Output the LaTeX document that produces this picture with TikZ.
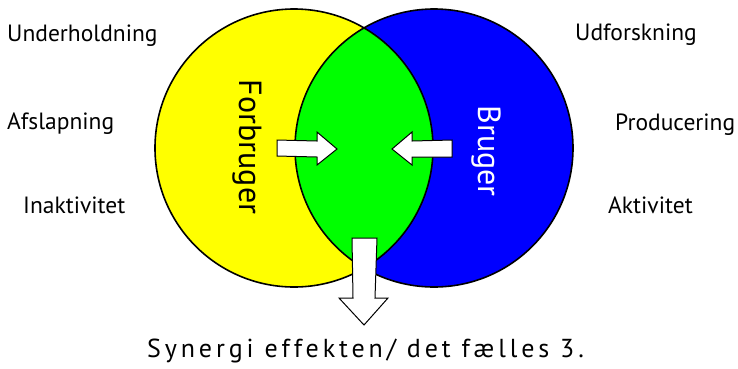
\documentclass[tikz,border=0pt]{standalone}
\usepackage{fontspec}
\setmainfont{PT Sans}
\definecolor{vyellow}{RGB}{255,255,0}
\definecolor{vblue}{RGB}{0,0,255}
\definecolor{vgreen}{RGB}{0,255,0}
\begin{document}
\begin{tikzpicture}[x=1pt,y=-1pt,
  side/.style={font=\fontsize{23.5}{26}\selectfont, inner sep=0pt, anchor=base west},
  inlabel/.style={rotate=-90, font=\fontsize{32}{36}\selectfont, inner sep=0pt},
  circ/.style={line width=1.6pt},
  fatarrow/.style={fill=white, draw=black, line width=1pt, line join=miter}]
\useasboundingbox (0,0) rectangle (738,368);
% circles
\fill[vyellow] (294,148) circle (139);
\fill[vblue] (434,148) circle (139);
\begin{scope}
  \clip (294,148) circle (139);
  \fill[vgreen] (434,148) circle (139);
\end{scope}
\draw[circ] (294,148) circle (139);
\draw[circ] (434,148) circle (139);
% circle labels
\node[inlabel] (forb) at (247,147) {Forbruger};
\node[inlabel, text=white] (brug) at (486,151) {Bruger};
% arrows
\draw[fatarrow] (277,140) -- (317,141) -- (317,132) -- (337,149) -- (317,165) -- (317,157) -- (277,156) -- cycle;
\draw[fatarrow] (452,140) -- (412,141) -- (412,132) -- (392,149) -- (412,165) -- (412,157) -- (452,157) -- cycle;
\draw[fatarrow] (352,238) -- (377,238) -- (375,298) -- (388,298) -- (364,325) -- (339,298) -- (353,298) -- cycle;
% side labels
\node[side] (u1) at (7,41) {Underholdning};
\node[side] (u2) at (7,129) {Afslapning};
\node[side] (u3) at (23,213) {Inaktivitet};
\node[side] (b1) at (575,40) {Udforskning};
\node[side] (b2) at (615,130) {Producering};
\node[side] (b3) at (608,213) {Aktivitet};
% bottom text
\node[font=\fontsize{26}{30}\selectfont\addfontfeature{LetterSpace=15}, inner sep=0pt, anchor=base] (syn) at (365.5,357) {Synergi effekten/ det fælles 3.};
\end{tikzpicture}
\end{document}
